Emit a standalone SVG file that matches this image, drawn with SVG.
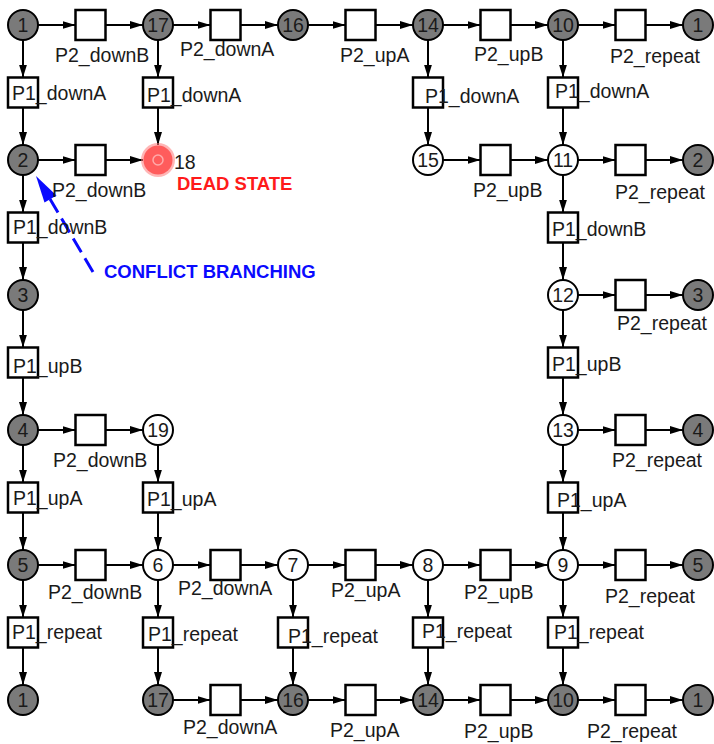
<svg xmlns="http://www.w3.org/2000/svg" width="714" height="744" viewBox="0 0 714 744">
<style>
.e{stroke:#000;stroke-width:2;fill:none;marker-end:url(#ah)}
.t{fill:#fff;stroke:#000;stroke-width:2.5}
.pg{fill:#7a7a7a;stroke:#000;stroke-width:2}
.pw{fill:#fff;stroke:#000;stroke-width:2}
text{font-family:"Liberation Sans",Arial,Helvetica,sans-serif;font-size:19.5px;fill:#1a1a1a}
.n{text-anchor:middle}
.dead{fill:#ff1a1a;font-weight:bold;font-size:18.5px}
.conf{fill:#0a0aff;font-weight:bold;font-size:18.5px}
</style>
<defs>
<marker id="ah" markerUnits="userSpaceOnUse" markerWidth="14" markerHeight="9" refX="13" refY="4.5" orient="auto">
<path d="M0,0.5 L13,4.5 L0,8.5 Z" fill="#000"/>
</marker>
</defs>
<rect width="714" height="744" fill="#fff"/>
<g id="connectors">
<!-- row 0 -->
<line class="e" x1="38" y1="25" x2="75.5" y2="25"/>
<line class="e" x1="105.5" y1="25" x2="143" y2="25"/>
<line class="e" x1="173" y1="25" x2="210.5" y2="25"/>
<line class="e" x1="240.5" y1="25" x2="278" y2="25"/>
<line class="e" x1="308" y1="25" x2="345.5" y2="25"/>
<line class="e" x1="375.5" y1="25" x2="413" y2="25"/>
<line class="e" x1="443" y1="25" x2="480.5" y2="25"/>
<line class="e" x1="510.5" y1="25" x2="548" y2="25"/>
<line class="e" x1="578" y1="25" x2="615.5" y2="25"/>
<line class="e" x1="645.5" y1="25" x2="683" y2="25"/>
<!-- row 2 -->
<line class="e" x1="38" y1="160" x2="75.5" y2="160"/>
<line class="e" x1="105.5" y1="160" x2="143" y2="160"/>
<line class="e" x1="443" y1="160" x2="480.5" y2="160"/>
<line class="e" x1="510.5" y1="160" x2="548" y2="160"/>
<line class="e" x1="578" y1="160" x2="615.5" y2="160"/>
<line class="e" x1="645.5" y1="160" x2="683" y2="160"/>
<!-- row 4 -->
<line class="e" x1="578" y1="295" x2="615.5" y2="295"/>
<line class="e" x1="645.5" y1="295" x2="683" y2="295"/>
<!-- row 6 -->
<line class="e" x1="38" y1="430" x2="75.5" y2="430"/>
<line class="e" x1="105.5" y1="430" x2="143" y2="430"/>
<line class="e" x1="578" y1="430" x2="615.5" y2="430"/>
<line class="e" x1="645.5" y1="430" x2="683" y2="430"/>
<!-- row 8 -->
<line class="e" x1="38" y1="565" x2="75.5" y2="565"/>
<line class="e" x1="105.5" y1="565" x2="143" y2="565"/>
<line class="e" x1="173" y1="565" x2="210.5" y2="565"/>
<line class="e" x1="240.5" y1="565" x2="278" y2="565"/>
<line class="e" x1="308" y1="565" x2="345.5" y2="565"/>
<line class="e" x1="375.5" y1="565" x2="413" y2="565"/>
<line class="e" x1="443" y1="565" x2="480.5" y2="565"/>
<line class="e" x1="510.5" y1="565" x2="548" y2="565"/>
<line class="e" x1="578" y1="565" x2="615.5" y2="565"/>
<line class="e" x1="645.5" y1="565" x2="683" y2="565"/>
<!-- row 10 -->
<line class="e" x1="173" y1="700" x2="210.5" y2="700"/>
<line class="e" x1="240.5" y1="700" x2="278" y2="700"/>
<line class="e" x1="308" y1="700" x2="345.5" y2="700"/>
<line class="e" x1="375.5" y1="700" x2="413" y2="700"/>
<line class="e" x1="443" y1="700" x2="480.5" y2="700"/>
<line class="e" x1="510.5" y1="700" x2="548" y2="700"/>
<line class="e" x1="578" y1="700" x2="615.5" y2="700"/>
<line class="e" x1="645.5" y1="700" x2="683" y2="700"/>
<!-- col 0 -->
<line class="e" x1="23" y1="40" x2="23" y2="77.5"/>
<line class="e" x1="23" y1="107.5" x2="23" y2="145"/>
<line class="e" x1="23" y1="175" x2="23" y2="212.5"/>
<line class="e" x1="23" y1="242.5" x2="23" y2="280"/>
<line class="e" x1="23" y1="310" x2="23" y2="347.5"/>
<line class="e" x1="23" y1="377.5" x2="23" y2="415"/>
<line class="e" x1="23" y1="445" x2="23" y2="482.5"/>
<line class="e" x1="23" y1="512.5" x2="23" y2="550"/>
<line class="e" x1="23" y1="580" x2="23" y2="617.5"/>
<line class="e" x1="23" y1="647.5" x2="23" y2="685"/>
<!-- col 158 -->
<line class="e" x1="158" y1="40" x2="158" y2="77.5"/>
<line class="e" x1="158" y1="107.5" x2="158" y2="145"/>
<line class="e" x1="158" y1="445" x2="158" y2="482.5"/>
<line class="e" x1="158" y1="512.5" x2="158" y2="550"/>
<line class="e" x1="158" y1="580" x2="158" y2="617.5"/>
<line class="e" x1="158" y1="647.5" x2="158" y2="685"/>
<!-- col 293 -->
<line class="e" x1="293" y1="580" x2="293" y2="617.5"/>
<line class="e" x1="293" y1="647.5" x2="293" y2="685"/>
<!-- col 428 -->
<line class="e" x1="428" y1="40" x2="428" y2="77.5"/>
<line class="e" x1="428" y1="107.5" x2="428" y2="145"/>
<line class="e" x1="428" y1="580" x2="428" y2="617.5"/>
<line class="e" x1="428" y1="647.5" x2="428" y2="685"/>
<!-- col 563 -->
<line class="e" x1="563" y1="40" x2="563" y2="77.5"/>
<line class="e" x1="563" y1="107.5" x2="563" y2="145"/>
<line class="e" x1="563" y1="175" x2="563" y2="212.5"/>
<line class="e" x1="563" y1="242.5" x2="563" y2="280"/>
<line class="e" x1="563" y1="310" x2="563" y2="347.5"/>
<line class="e" x1="563" y1="377.5" x2="563" y2="415"/>
<line class="e" x1="563" y1="445" x2="563" y2="482.5"/>
<line class="e" x1="563" y1="512.5" x2="563" y2="550"/>
<line class="e" x1="563" y1="580" x2="563" y2="617.5"/>
<line class="e" x1="563" y1="647.5" x2="563" y2="685"/>
<!-- conflict branching pointer -->
<line x1="93" y1="272" x2="50" y2="199" stroke="#0a0aff" stroke-width="3" stroke-dasharray="16 7"/>
<polygon points="36,176 56.5,195.5 44.5,202.5" fill="#0a0aff"/>
</g>

<!-- transitions row 0 -->
<g id="t_r0_1"><rect class="t" x="75.5" y="10" width="30" height="30"/><text x="55" y="62">P2_downB</text></g>
<g id="t_r0_2"><rect class="t" x="210.5" y="10" width="30" height="30"/><text x="180" y="56">P2_downA</text></g>
<g id="t_r0_3"><rect class="t" x="345.5" y="10" width="30" height="30"/><text x="340" y="62">P2_upA</text></g>
<g id="t_r0_4"><rect class="t" x="480.5" y="10" width="30" height="30"/><text x="474" y="61">P2_upB</text></g>
<g id="t_r0_5"><rect class="t" x="615.5" y="10" width="30" height="30"/><text x="610" y="63">P2_repeat</text></g>
<!-- row 1 vertical transitions -->
<g id="t_c0_1"><rect class="t" x="8" y="77.5" width="30" height="30"/><text x="12" y="100">P1_downA</text></g>
<g id="t_c2_1"><rect class="t" x="143" y="77.5" width="30" height="30"/><text x="147" y="102">P1_downA</text></g>
<g id="t_c6_1"><rect class="t" x="413" y="77.5" width="30" height="30"/><text x="425" y="103">P1_downA</text></g>
<g id="t_c8_1"><rect class="t" x="548" y="77.5" width="30" height="30"/><text x="555" y="98">P1_downA</text></g>
<!-- row 2 -->
<g id="t_r2_1"><rect class="t" x="75.5" y="145" width="30" height="30"/><text x="52" y="197">P2_downB</text></g>
<g id="t_r2_7"><rect class="t" x="480.5" y="145" width="30" height="30"/><text x="473" y="197">P2_upB</text></g>
<g id="t_r2_9"><rect class="t" x="615.5" y="145" width="30" height="30"/><text x="615" y="199">P2_repeat</text></g>
<!-- row 3 -->
<g id="t_c0_3"><rect class="t" x="8" y="212.5" width="30" height="30"/><text x="13" y="234">P1_downB</text></g>
<g id="t_c8_3"><rect class="t" x="548" y="212.5" width="30" height="30"/><text x="552" y="236">P1_downB</text></g>
<!-- row 4 -->
<g id="t_r4_9"><rect class="t" x="615.5" y="280" width="30" height="30"/><text x="617" y="330">P2_repeat</text></g>
<!-- row 5 -->
<g id="t_c0_5"><rect class="t" x="8" y="347.5" width="30" height="30"/><text x="13" y="373">P1_upB</text></g>
<g id="t_c8_5"><rect class="t" x="548" y="347.5" width="30" height="30"/><text x="552" y="371">P1_upB</text></g>
<!-- row 6 -->
<g id="t_r6_1"><rect class="t" x="75.5" y="415" width="30" height="30"/><text x="53" y="467">P2_downB</text></g>
<g id="t_r6_9"><rect class="t" x="615.5" y="415" width="30" height="30"/><text x="612" y="467">P2_repeat</text></g>
<!-- row 7 -->
<g id="t_c0_7"><rect class="t" x="8" y="482.5" width="30" height="30"/><text x="13" y="505">P1_upA</text></g>
<g id="t_c2_7"><rect class="t" x="143" y="482.5" width="30" height="30"/><text x="147" y="506">P1_upA</text></g>
<g id="t_c8_7"><rect class="t" x="548" y="482.5" width="30" height="30"/><text x="557" y="507">P1_upA</text></g>
<!-- row 8 -->
<g id="t_r8_1"><rect class="t" x="75.5" y="550" width="30" height="30"/><text x="48" y="599">P2_downB</text></g>
<g id="t_r8_3"><rect class="t" x="210.5" y="550" width="30" height="30"/><text x="178" y="595">P2_downA</text></g>
<g id="t_r8_5"><rect class="t" x="345.5" y="550" width="30" height="30"/><text x="331" y="597">P2_upA</text></g>
<g id="t_r8_7"><rect class="t" x="480.5" y="550" width="30" height="30"/><text x="464" y="599">P2_upB</text></g>
<g id="t_r8_9"><rect class="t" x="615.5" y="550" width="30" height="30"/><text x="605" y="603">P2_repeat</text></g>
<!-- row 9 -->
<g id="t_c0_9"><rect class="t" x="8" y="617.5" width="30" height="30"/><text x="12" y="639">P1_repeat</text></g>
<g id="t_c2_9"><rect class="t" x="143" y="617.5" width="30" height="30"/><text x="148" y="641">P1_repeat</text></g>
<g id="t_c4_9"><rect class="t" x="278" y="617.5" width="30" height="30"/><text x="288" y="643">P1_repeat</text></g>
<g id="t_c6_9"><rect class="t" x="413" y="617.5" width="30" height="30"/><text x="422" y="638">P1_repeat</text></g>
<g id="t_c8_9"><rect class="t" x="548" y="617.5" width="30" height="30"/><text x="554" y="639">P1_repeat</text></g>
<!-- row 10 -->
<g id="t_r10_3"><rect class="t" x="210.5" y="685" width="30" height="30"/><text x="183" y="734">P2_downA</text></g>
<g id="t_r10_5"><rect class="t" x="345.5" y="685" width="30" height="30"/><text x="330" y="737">P2_upA</text></g>
<g id="t_r10_7"><rect class="t" x="480.5" y="685" width="30" height="30"/><text x="464" y="738">P2_upB</text></g>
<g id="t_r10_9"><rect class="t" x="615.5" y="685" width="30" height="30"/><text x="587" y="738">P2_repeat</text></g>

<!-- places -->
<g id="p1a"><circle class="pg" cx="23" cy="25" r="15"/><text class="n" x="23" y="32">1</text></g>
<g id="p17a"><circle class="pg" cx="158" cy="25" r="15"/><text class="n" x="158" y="32">17</text></g>
<g id="p16a"><circle class="pg" cx="293" cy="25" r="15"/><text class="n" x="293" y="32">16</text></g>
<g id="p14a"><circle class="pg" cx="428" cy="25" r="15"/><text class="n" x="428" y="32">14</text></g>
<g id="p10a"><circle class="pg" cx="563" cy="25" r="15"/><text class="n" x="563" y="32">10</text></g>
<g id="p1b"><circle class="pg" cx="698" cy="25" r="15"/><text class="n" x="698" y="32">1</text></g>

<g id="p2"><circle class="pg" cx="23" cy="160" r="15"/><text class="n" x="23" y="167">2</text></g>
<g id="p18">
<circle cx="158" cy="160" r="17" fill="#ff7a7a" opacity="0.55"/>
<circle cx="158" cy="160" r="14.5" fill="#ff5c5c"/>
<circle cx="158" cy="160" r="5" fill="none" stroke="#ffaaaa" stroke-width="1.5"/>
<text x="174" y="169">18</text>
<text class="dead" x="177" y="190">DEAD STATE</text>
</g>
<g id="p15"><circle class="pw" cx="428" cy="160" r="15"/><text class="n" x="428" y="167">15</text></g>
<g id="p11"><circle class="pw" cx="563" cy="160" r="15"/><text class="n" x="563" y="167">11</text></g>
<g id="p2b"><circle class="pg" cx="698" cy="160" r="15"/><text class="n" x="698" y="167">2</text></g>

<g id="p3"><circle class="pg" cx="23" cy="295" r="15"/><text class="n" x="23" y="302">3</text></g>
<g id="p12"><circle class="pw" cx="563" cy="295" r="15"/><text class="n" x="563" y="302">12</text></g>
<g id="p3b"><circle class="pg" cx="698" cy="295" r="15"/><text class="n" x="698" y="302">3</text></g>

<g id="p4"><circle class="pg" cx="23" cy="430" r="15"/><text class="n" x="23" y="437">4</text></g>
<g id="p19"><circle class="pw" cx="158" cy="430" r="15"/><text class="n" x="158" y="437">19</text></g>
<g id="p13"><circle class="pw" cx="563" cy="430" r="15"/><text class="n" x="563" y="437">13</text></g>
<g id="p4b"><circle class="pg" cx="698" cy="430" r="15"/><text class="n" x="698" y="437">4</text></g>

<g id="p5"><circle class="pg" cx="23" cy="565" r="15"/><text class="n" x="23" y="572">5</text></g>
<g id="p6"><circle class="pw" cx="158" cy="565" r="15"/><text class="n" x="158" y="572">6</text></g>
<g id="p7"><circle class="pw" cx="293" cy="565" r="15"/><text class="n" x="293" y="572">7</text></g>
<g id="p8"><circle class="pw" cx="428" cy="565" r="15"/><text class="n" x="428" y="572">8</text></g>
<g id="p9"><circle class="pw" cx="563" cy="565" r="15"/><text class="n" x="563" y="572">9</text></g>
<g id="p5b"><circle class="pg" cx="698" cy="565" r="15"/><text class="n" x="698" y="572">5</text></g>

<g id="p1c"><circle class="pg" cx="23" cy="700" r="15"/><text class="n" x="23" y="707">1</text></g>
<g id="p17b"><circle class="pg" cx="158" cy="700" r="15"/><text class="n" x="158" y="707">17</text></g>
<g id="p16b"><circle class="pg" cx="293" cy="700" r="15"/><text class="n" x="293" y="707">16</text></g>
<g id="p14b"><circle class="pg" cx="428" cy="700" r="15"/><text class="n" x="428" y="707">14</text></g>
<g id="p10b"><circle class="pg" cx="563" cy="700" r="15"/><text class="n" x="563" y="707">10</text></g>
<g id="p1d"><circle class="pg" cx="698" cy="700" r="15"/><text class="n" x="698" y="707">1</text></g>

<g id="conflict-label"><text class="conf" x="104" y="278">CONFLICT BRANCHING</text></g>
</svg>
